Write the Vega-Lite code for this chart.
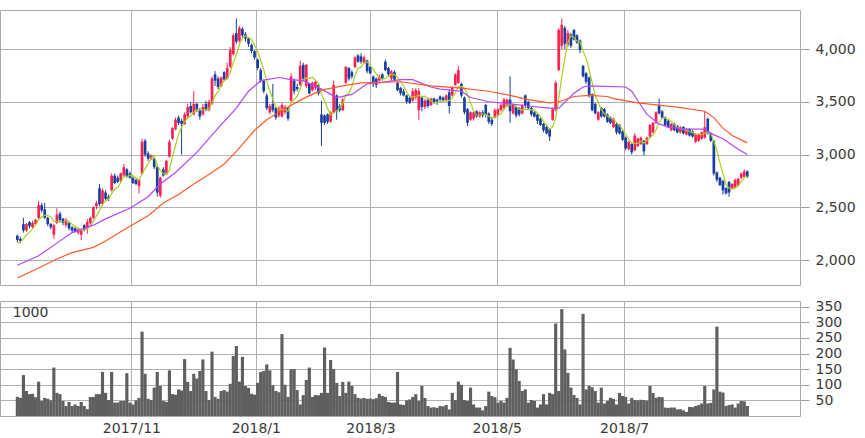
{
"$schema": "https://vega.github.io/schema/vega-lite/v6.json",
"padding": {"left": -1, "top": 9, "right": 0, "bottom": 0},
"background": "white",
"spacing": 16,
"bounds": "flush",
"config": {
  "view": {"stroke": "#a9a9a9", "strokeWidth": 1},
  "axis": {"gridColor": "#b0b0b0", "gridWidth": 1, "labelFont": "DejaVu Sans", "labelFontSize": 14, "labelColor": "#3a3a3a", "tickColor": "#a0a0a0", "domain": false, "title": null}
},
"datasets": {
"k": [
{"i":0,"o":2230,"h":2240,"l":2170,"c":2190,"v":61,"m":2160},
{"i":1,"o":2200,"h":2220,"l":2160,"c":2180,"v":58,"m":2170},
{"i":2,"o":2340,"h":2400,"l":2260,"c":2280,"v":131,"m":2200},
{"i":3,"o":2280,"h":2350,"l":2270,"c":2340,"v":80,"m":2240},
{"i":4,"o":2360,"h":2370,"l":2300,"c":2320,"v":70,"m":2262},
{"i":5,"o":2310,"h":2370,"l":2300,"c":2350,"v":71,"m":2294},
{"i":6,"o":2340,"h":2390,"l":2330,"c":2380,"v":60,"m":2334},
{"i":7,"o":2400,"h":2560,"l":2390,"c":2520,"v":110,"m":2382},
{"i":8,"o":2520,"h":2540,"l":2450,"c":2470,"v":48,"m":2408},
{"i":9,"o":2480,"h":2540,"l":2390,"c":2400,"v":58,"m":2424},
{"i":10,"o":2400,"h":2410,"l":2320,"c":2340,"v":55,"m":2422},
{"i":11,"o":2340,"h":2350,"l":2290,"c":2310,"v":50,"m":2408},
{"i":12,"o":2240,"h":2340,"l":2200,"c":2330,"v":155,"m":2370},
{"i":13,"o":2350,"h":2490,"l":2340,"c":2430,"v":74,"m":2362},
{"i":14,"o":2440,"h":2460,"l":2360,"c":2380,"v":70,"m":2358},
{"i":15,"o":2390,"h":2400,"l":2330,"c":2350,"v":48,"m":2360},
{"i":16,"o":2330,"h":2400,"l":2310,"c":2380,"v":32,"m":2374},
{"i":17,"o":2350,"h":2360,"l":2280,"c":2300,"v":45,"m":2368},
{"i":18,"o":2310,"h":2320,"l":2260,"c":2280,"v":32,"m":2338},
{"i":19,"o":2300,"h":2310,"l":2260,"c":2270,"v":37,"m":2316},
{"i":20,"o":2260,"h":2300,"l":2240,"c":2290,"v":32,"m":2304},
{"i":21,"o":2240,"h":2290,"l":2190,"c":2280,"v":45,"m":2284},
{"i":22,"o":2330,"h":2340,"l":2270,"c":2290,"v":32,"m":2282},
{"i":23,"o":2300,"h":2390,"l":2250,"c":2360,"v":22,"m":2298},
{"i":24,"o":2350,"h":2410,"l":2330,"c":2400,"v":61,"m":2324},
{"i":25,"o":2400,"h":2510,"l":2390,"c":2500,"v":61,"m":2366},
{"i":26,"o":2510,"h":2560,"l":2480,"c":2540,"v":70,"m":2418},
{"i":27,"o":2680,"h":2720,"l":2510,"c":2530,"v":70,"m":2466},
{"i":28,"o":2530,"h":2680,"l":2510,"c":2660,"v":141,"m":2526},
{"i":29,"o":2640,"h":2660,"l":2560,"c":2580,"v":74,"m":2562},
{"i":30,"o":2600,"h":2620,"l":2560,"c":2580,"v":51,"m":2578},
{"i":31,"o":2660,"h":2820,"l":2650,"c":2800,"v":141,"m":2630},
{"i":32,"o":2800,"h":2820,"l":2720,"c":2730,"v":43,"m":2670},
{"i":33,"o":2780,"h":2800,"l":2730,"c":2740,"v":43,"m":2686},
{"i":34,"o":2750,"h":2830,"l":2740,"c":2820,"v":48,"m":2734},
{"i":35,"o":2800,"h":2910,"l":2790,"c":2880,"v":48,"m":2794},
{"i":36,"o":2860,"h":2870,"l":2780,"c":2790,"v":137,"m":2792},
{"i":37,"o":2820,"h":2840,"l":2770,"c":2780,"v":43,"m":2802},
{"i":38,"o":2780,"h":2790,"l":2720,"c":2730,"v":37,"m":2800},
{"i":39,"o":2760,"h":2770,"l":2710,"c":2720,"v":50,"m":2780},
{"i":40,"o":2700,"h":2770,"l":2630,"c":2760,"v":58,"m":2756},
{"i":41,"o":2820,"h":3150,"l":2810,"c":3120,"v":270,"m":2822},
{"i":42,"o":3130,"h":3150,"l":2980,"c":3000,"v":135,"m":2866},
{"i":43,"o":3010,"h":3030,"l":2940,"c":2960,"v":55,"m":2912},
{"i":44,"o":2960,"h":3000,"l":2950,"c":2990,"v":51,"m":2966},
{"i":45,"o":2960,"h":2970,"l":2860,"c":2880,"v":91,"m":2990},
{"i":46,"o":2880,"h":2900,"l":2600,"c":2640,"v":141,"m":2894},
{"i":47,"o":2610,"h":2790,"l":2590,"c":2780,"v":96,"m":2850},
{"i":48,"o":2860,"h":2880,"l":2790,"c":2800,"v":48,"m":2818},
{"i":49,"o":2820,"h":2950,"l":2810,"c":2940,"v":45,"m":2808},
{"i":50,"o":2980,"h":3140,"l":2970,"c":3120,"v":146,"m":2856},
{"i":51,"o":3150,"h":3260,"l":3140,"c":3250,"v":70,"m":2978},
{"i":52,"o":3240,"h":3350,"l":3230,"c":3330,"v":68,"m":3088},
{"i":53,"o":3350,"h":3370,"l":3280,"c":3300,"v":85,"m":3188},
{"i":54,"o":3320,"h":3340,"l":3000,"c":3290,"v":82,"m":3258},
{"i":55,"o":3290,"h":3400,"l":3280,"c":3380,"v":182,"m":3310},
{"i":56,"o":3360,"h":3480,"l":3340,"c":3450,"v":109,"m":3350},
{"i":57,"o":3460,"h":3500,"l":3390,"c":3400,"v":80,"m":3364},
{"i":58,"o":3380,"h":3600,"l":3370,"c":3480,"v":135,"m":3400},
{"i":59,"o":3480,"h":3490,"l":3400,"c":3420,"v":120,"m":3426},
{"i":60,"o":3420,"h":3440,"l":3330,"c":3360,"v":144,"m":3422},
{"i":61,"o":3380,"h":3480,"l":3370,"c":3450,"v":181,"m":3422},
{"i":62,"o":3480,"h":3510,"l":3410,"c":3420,"v":80,"m":3426},
{"i":63,"o":3420,"h":3520,"l":3410,"c":3500,"v":51,"m":3430},
{"i":64,"o":3480,"h":3740,"l":3470,"c":3720,"v":206,"m":3490},
{"i":65,"o":3760,"h":3790,"l":3650,"c":3700,"v":61,"m":3558},
{"i":66,"o":3720,"h":3740,"l":3620,"c":3640,"v":55,"m":3596},
{"i":67,"o":3650,"h":3740,"l":3640,"c":3730,"v":80,"m":3658},
{"i":68,"o":3780,"h":3790,"l":3700,"c":3710,"v":83,"m":3700},
{"i":69,"o":3720,"h":3870,"l":3710,"c":3820,"v":78,"m":3720},
{"i":70,"o":3830,"h":4020,"l":3820,"c":3990,"v":103,"m":3778},
{"i":71,"o":3950,"h":4150,"l":3940,"c":4130,"v":192,"m":3876},
{"i":72,"o":4150,"h":4290,"l":4050,"c":4070,"v":224,"m":3944},
{"i":73,"o":4080,"h":4220,"l":4060,"c":4200,"v":110,"m":4042},
{"i":74,"o":4190,"h":4210,"l":4110,"c":4130,"v":189,"m":4104},
{"i":75,"o":4140,"h":4160,"l":4070,"c":4100,"v":96,"m":4126},
{"i":76,"o":4100,"h":4110,"l":4020,"c":4050,"v":90,"m":4110},
{"i":77,"o":4040,"h":4050,"l":3960,"c":3980,"v":71,"m":4092},
{"i":78,"o":3980,"h":3990,"l":3900,"c":3920,"v":68,"m":4036},
{"i":79,"o":3900,"h":3910,"l":3800,"c":3820,"v":106,"m":3974},
{"i":80,"o":3800,"h":3820,"l":3680,"c":3700,"v":141,"m":3894},
{"i":81,"o":3700,"h":3710,"l":3580,"c":3600,"v":144,"m":3804},
{"i":82,"o":3560,"h":3580,"l":3420,"c":3440,"v":165,"m":3696},
{"i":83,"o":3400,"h":3480,"l":3380,"c":3460,"v":146,"m":3604},
{"i":84,"o":3480,"h":3670,"l":3400,"c":3420,"v":98,"m":3524},
{"i":85,"o":3440,"h":3450,"l":3330,"c":3350,"v":80,"m":3454},
{"i":86,"o":3370,"h":3460,"l":3350,"c":3440,"v":76,"m":3422},
{"i":87,"o":3360,"h":3490,"l":3350,"c":3470,"v":262,"m":3428},
{"i":88,"o":3400,"h":3470,"l":3380,"c":3450,"v":100,"m":3426},
{"i":89,"o":3440,"h":3450,"l":3320,"c":3340,"v":61,"m":3410},
{"i":90,"o":3510,"h":3770,"l":3500,"c":3740,"v":150,"m":3488},
{"i":91,"o":3700,"h":3720,"l":3570,"c":3600,"v":150,"m":3520},
{"i":92,"o":3640,"h":3670,"l":3600,"c":3620,"v":83,"m":3550},
{"i":93,"o":3660,"h":3890,"l":3650,"c":3840,"v":37,"m":3628},
{"i":94,"o":3850,"h":3870,"l":3700,"c":3720,"v":67,"m":3704},
{"i":95,"o":3650,"h":3860,"l":3630,"c":3850,"v":115,"m":3726},
{"i":96,"o":3670,"h":3680,"l":3570,"c":3580,"v":155,"m":3722},
{"i":97,"o":3610,"h":3690,"l":3600,"c":3680,"v":61,"m":3734},
{"i":98,"o":3630,"h":3700,"l":3610,"c":3690,"v":67,"m":3704},
{"i":99,"o":3660,"h":3670,"l":3560,"c":3580,"v":66,"m":3676},
{"i":100,"o":3380,"h":3510,"l":3080,"c":3300,"v":74,"m":3566},
{"i":101,"o":3370,"h":3380,"l":3280,"c":3300,"v":219,"m":3510},
{"i":102,"o":3380,"h":3390,"l":3290,"c":3310,"v":74,"m":3436},
{"i":103,"o":3310,"h":3410,"l":3300,"c":3400,"v":179,"m":3378},
{"i":104,"o":3400,"h":3700,"l":3390,"c":3660,"v":150,"m":3394},
{"i":105,"o":3560,"h":3570,"l":3330,"c":3410,"v":106,"m":3416},
{"i":106,"o":3460,"h":3480,"l":3400,"c":3420,"v":64,"m":3440},
{"i":107,"o":3420,"h":3540,"l":3410,"c":3520,"v":109,"m":3482},
{"i":108,"o":3680,"h":3840,"l":3670,"c":3830,"v":74,"m":3568},
{"i":109,"o":3820,"h":3830,"l":3700,"c":3720,"v":110,"m":3580},
{"i":110,"o":3780,"h":3800,"l":3720,"c":3740,"v":96,"m":3646},
{"i":111,"o":3830,"h":3930,"l":3820,"c":3920,"v":70,"m":3746},
{"i":112,"o":3940,"h":3950,"l":3870,"c":3880,"v":58,"m":3818},
{"i":113,"o":3930,"h":3960,"l":3860,"c":3880,"v":56,"m":3828},
{"i":114,"o":3870,"h":3940,"l":3860,"c":3920,"v":58,"m":3868},
{"i":115,"o":3890,"h":3900,"l":3770,"c":3790,"v":55,"m":3878},
{"i":116,"o":3830,"h":3840,"l":3760,"c":3770,"v":56,"m":3848},
{"i":117,"o":3740,"h":3750,"l":3640,"c":3680,"v":54,"m":3808},
{"i":118,"o":3720,"h":3730,"l":3630,"c":3660,"v":57,"m":3764},
{"i":119,"o":3700,"h":3760,"l":3690,"c":3740,"v":71,"m":3728},
{"i":120,"o":3760,"h":3770,"l":3700,"c":3720,"v":64,"m":3714},
{"i":121,"o":3880,"h":3900,"l":3790,"c":3800,"v":61,"m":3720},
{"i":122,"o":3820,"h":3830,"l":3740,"c":3760,"v":45,"m":3736},
{"i":123,"o":3720,"h":3800,"l":3700,"c":3790,"v":43,"m":3762},
{"i":124,"o":3780,"h":3800,"l":3700,"c":3710,"v":43,"m":3756},
{"i":125,"o":3680,"h":3690,"l":3600,"c":3610,"v":141,"m":3734},
{"i":126,"o":3630,"h":3640,"l":3560,"c":3580,"v":37,"m":3690},
{"i":127,"o":3600,"h":3620,"l":3550,"c":3560,"v":35,"m":3650},
{"i":128,"o":3560,"h":3570,"l":3480,"c":3500,"v":50,"m":3592},
{"i":129,"o":3540,"h":3560,"l":3480,"c":3490,"v":53,"m":3548},
{"i":130,"o":3510,"h":3630,"l":3500,"c":3600,"v":61,"m":3546},
{"i":131,"o":3540,"h":3630,"l":3520,"c":3610,"v":70,"m":3552},
{"i":132,"o":3420,"h":3630,"l":3330,"c":3600,"v":48,"m":3560},
{"i":133,"o":3540,"h":3550,"l":3410,"c":3450,"v":96,"m":3550},
{"i":134,"o":3450,"h":3530,"l":3430,"c":3510,"v":58,"m":3554},
{"i":135,"o":3520,"h":3540,"l":3440,"c":3460,"v":32,"m":3526},
{"i":136,"o":3470,"h":3540,"l":3460,"c":3530,"v":27,"m":3510},
{"i":137,"o":3530,"h":3540,"l":3480,"c":3490,"v":28,"m":3488},
{"i":138,"o":3520,"h":3530,"l":3470,"c":3500,"v":26,"m":3498},
{"i":139,"o":3550,"h":3560,"l":3510,"c":3520,"v":32,"m":3500},
{"i":140,"o":3540,"h":3550,"l":3500,"c":3510,"v":31,"m":3510},
{"i":141,"o":3510,"h":3570,"l":3500,"c":3560,"v":35,"m":3516},
{"i":142,"o":3590,"h":3620,"l":3390,"c":3460,"v":21,"m":3510},
{"i":143,"o":3560,"h":3650,"l":3550,"c":3640,"v":74,"m":3538},
{"i":144,"o":3660,"h":3770,"l":3650,"c":3760,"v":51,"m":3586},
{"i":145,"o":3680,"h":3840,"l":3670,"c":3800,"v":110,"m":3644},
{"i":146,"o":3670,"h":3680,"l":3540,"c":3560,"v":100,"m":3644},
{"i":147,"o":3540,"h":3550,"l":3380,"c":3400,"v":51,"m":3632},
{"i":148,"o":3430,"h":3440,"l":3270,"c":3300,"v":48,"m":3564},
{"i":149,"o":3330,"h":3410,"l":3320,"c":3400,"v":91,"m":3492},
{"i":150,"o":3340,"h":3410,"l":3320,"c":3400,"v":37,"m":3412},
{"i":151,"o":3410,"h":3420,"l":3350,"c":3360,"v":27,"m":3372},
{"i":152,"o":3360,"h":3410,"l":3350,"c":3400,"v":27,"m":3372},
{"i":153,"o":3400,"h":3420,"l":3350,"c":3370,"v":18,"m":3386},
{"i":154,"o":3470,"h":3480,"l":3350,"c":3380,"v":32,"m":3382},
{"i":155,"o":3390,"h":3400,"l":3290,"c":3310,"v":78,"m":3364},
{"i":156,"o":3330,"h":3350,"l":3270,"c":3290,"v":64,"m":3350},
{"i":157,"o":3350,"h":3440,"l":3340,"c":3420,"v":60,"m":3354},
{"i":158,"o":3380,"h":3440,"l":3360,"c":3430,"v":43,"m":3366},
{"i":159,"o":3420,"h":3480,"l":3410,"c":3470,"v":48,"m":3384},
{"i":160,"o":3440,"h":3540,"l":3430,"c":3520,"v":43,"m":3426},
{"i":161,"o":3460,"h":3530,"l":3450,"c":3520,"v":58,"m":3472},
{"i":162,"o":3520,"h":3740,"l":3300,"c":3410,"v":218,"m":3470},
{"i":163,"o":3390,"h":3480,"l":3380,"c":3470,"v":181,"m":3478},
{"i":164,"o":3450,"h":3460,"l":3350,"c":3370,"v":150,"m":3458},
{"i":165,"o":3440,"h":3450,"l":3360,"c":3380,"v":112,"m":3430},
{"i":166,"o":3390,"h":3480,"l":3380,"c":3460,"v":80,"m":3418},
{"i":167,"o":3560,"h":3570,"l":3440,"c":3470,"v":85,"m":3430},
{"i":168,"o":3500,"h":3510,"l":3430,"c":3440,"v":43,"m":3424},
{"i":169,"o":3440,"h":3450,"l":3360,"c":3380,"v":51,"m":3426},
{"i":170,"o":3400,"h":3410,"l":3350,"c":3360,"v":48,"m":3422},
{"i":171,"o":3380,"h":3390,"l":3290,"c":3320,"v":27,"m":3394},
{"i":172,"o":3340,"h":3350,"l":3270,"c":3280,"v":37,"m":3356},
{"i":173,"o":3290,"h":3300,"l":3210,"c":3230,"v":70,"m":3314},
{"i":174,"o":3260,"h":3270,"l":3190,"c":3200,"v":37,"m":3278},
{"i":175,"o":3240,"h":3250,"l":3130,"c":3170,"v":74,"m":3240},
{"i":176,"o":3330,"h":3440,"l":3320,"c":3430,"v":70,"m":3262},
{"i":177,"o":3420,"h":3700,"l":3410,"c":3680,"v":296,"m":3342},
{"i":178,"o":3800,"h":4200,"l":3790,"c":4180,"v":80,"m":3532},
{"i":179,"o":4030,"h":4290,"l":4000,"c":4230,"v":342,"m":3738},
{"i":180,"o":4200,"h":4220,"l":4000,"c":4050,"v":213,"m":3914},
{"i":181,"o":4040,"h":4180,"l":4020,"c":4150,"v":138,"m":4058},
{"i":182,"o":4140,"h":4150,"l":4010,"c":4030,"v":91,"m":4128},
{"i":183,"o":4180,"h":4190,"l":4080,"c":4090,"v":67,"m":4110},
{"i":184,"o":4130,"h":4140,"l":4050,"c":4060,"v":58,"m":4076},
{"i":185,"o":4080,"h":4090,"l":3960,"c":3990,"v":37,"m":4064},
{"i":186,"o":3840,"h":3850,"l":3730,"c":3740,"v":327,"m":3982},
{"i":187,"o":3770,"h":3780,"l":3670,"c":3690,"v":85,"m":3914},
{"i":188,"o":3730,"h":3740,"l":3540,"c":3560,"v":96,"m":3808},
{"i":189,"o":3570,"h":3580,"l":3410,"c":3420,"v":92,"m":3680},
{"i":190,"o":3480,"h":3490,"l":3380,"c":3390,"v":80,"m":3560},
{"i":191,"o":3330,"h":3410,"l":3320,"c":3400,"v":43,"m":3492},
{"i":192,"o":3440,"h":3450,"l":3350,"c":3360,"v":91,"m":3426},
{"i":193,"o":3430,"h":3440,"l":3350,"c":3360,"v":40,"m":3386},
{"i":194,"o":3380,"h":3390,"l":3300,"c":3310,"v":48,"m":3364},
{"i":195,"o":3350,"h":3360,"l":3290,"c":3300,"v":58,"m":3346},
{"i":196,"o":3260,"h":3350,"l":3250,"c":3340,"v":55,"m":3334},
{"i":197,"o":3290,"h":3300,"l":3190,"c":3210,"v":37,"m":3304},
{"i":198,"o":3280,"h":3290,"l":3190,"c":3200,"v":74,"m":3272},
{"i":199,"o":3220,"h":3230,"l":3130,"c":3140,"v":64,"m":3238},
{"i":200,"o":3160,"h":3170,"l":3040,"c":3060,"v":61,"m":3190},
{"i":201,"o":3050,"h":3130,"l":3040,"c":3120,"v":40,"m":3146},
{"i":202,"o":3100,"h":3110,"l":3000,"c":3020,"v":58,"m":3108},
{"i":203,"o":3040,"h":3200,"l":3030,"c":3180,"v":51,"m":3104},
{"i":204,"o":3080,"h":3160,"l":3070,"c":3150,"v":50,"m":3106},
{"i":205,"o":3100,"h":3170,"l":3090,"c":3160,"v":52,"m":3126},
{"i":206,"o":3130,"h":3140,"l":2990,"c":3030,"v":51,"m":3108},
{"i":207,"o":3100,"h":3170,"l":3090,"c":3160,"v":49,"m":3136},
{"i":208,"o":3170,"h":3290,"l":3160,"c":3280,"v":96,"m":3156},
{"i":209,"o":3210,"h":3310,"l":3200,"c":3300,"v":74,"m":3186},
{"i":210,"o":3300,"h":3410,"l":3290,"c":3400,"v":58,"m":3234},
{"i":211,"o":3470,"h":3530,"l":3380,"c":3390,"v":61,"m":3306},
{"i":212,"o":3410,"h":3420,"l":3340,"c":3350,"v":60,"m":3344},
{"i":213,"o":3350,"h":3360,"l":3270,"c":3280,"v":27,"m":3344},
{"i":214,"o":3320,"h":3330,"l":3250,"c":3260,"v":26,"m":3336},
{"i":215,"o":3230,"h":3300,"l":3220,"c":3290,"v":27,"m":3314},
{"i":216,"o":3290,"h":3300,"l":3220,"c":3230,"v":27,"m":3282},
{"i":217,"o":3270,"h":3280,"l":3200,"c":3210,"v":21,"m":3254},
{"i":218,"o":3210,"h":3270,"l":3200,"c":3260,"v":22,"m":3250},
{"i":219,"o":3260,"h":3270,"l":3190,"c":3200,"v":18,"m":3238},
{"i":220,"o":3190,"h":3250,"l":3180,"c":3240,"v":13,"m":3228},
{"i":221,"o":3240,"h":3250,"l":3170,"c":3180,"v":29,"m":3218},
{"i":222,"o":3220,"h":3230,"l":3160,"c":3170,"v":28,"m":3210},
{"i":223,"o":3120,"h":3200,"l":3110,"c":3190,"v":32,"m":3196},
{"i":224,"o":3130,"h":3200,"l":3120,"c":3190,"v":35,"m":3194},
{"i":225,"o":3150,"h":3220,"l":3140,"c":3210,"v":40,"m":3188},
{"i":226,"o":3160,"h":3410,"l":3150,"c":3260,"v":96,"m":3204},
{"i":227,"o":3340,"h":3350,"l":3190,"c":3200,"v":40,"m":3210},
{"i":228,"o":3200,"h":3210,"l":3120,"c":3130,"v":42,"m":3198},
{"i":229,"o":3130,"h":3140,"l":2800,"c":2820,"v":85,"m":3124},
{"i":230,"o":2830,"h":2840,"l":2740,"c":2760,"v":286,"m":3034},
{"i":231,"o":2780,"h":2790,"l":2700,"c":2710,"v":78,"m":2924},
{"i":232,"o":2750,"h":2760,"l":2620,"c":2660,"v":75,"m":2816},
{"i":233,"o":2680,"h":2690,"l":2620,"c":2630,"v":32,"m":2716},
{"i":234,"o":2740,"h":2750,"l":2600,"c":2640,"v":35,"m":2680},
{"i":235,"o":2680,"h":2730,"l":2670,"c":2720,"v":37,"m":2672},
{"i":236,"o":2690,"h":2770,"l":2680,"c":2760,"v":27,"m":2682},
{"i":237,"o":2710,"h":2780,"l":2700,"c":2770,"v":40,"m":2704},
{"i":238,"o":2780,"h":2830,"l":2770,"c":2820,"v":48,"m":2742},
{"i":239,"o":2790,"h":2860,"l":2780,"c":2840,"v":47,"m":2782},
{"i":240,"o":2840,"h":2850,"l":2780,"c":2790,"v":32,"m":2796}
],
"m25": [
{"i":0,"v":1950},{"i":7,"v":2040},{"i":13,"v":2160},{"i":18,"v":2260},{"i":25,"v":2330},{"i":29,"v":2390},{"i":37,"v":2490},{"i":43,"v":2600},{"i":47,"v":2720},{"i":52,"v":2830},{"i":59,"v":3020},{"i":66,"v":3250},{"i":72,"v":3440},{"i":76,"v":3600},{"i":80,"v":3700},{"i":86,"v":3730},{"i":90,"v":3710},{"i":94,"v":3700},{"i":100,"v":3620},{"i":105,"v":3540},{"i":110,"v":3570},{"i":115,"v":3670},{"i":119,"v":3680},{"i":126,"v":3710},{"i":130,"v":3710},{"i":136,"v":3640},{"i":139,"v":3620},{"i":146,"v":3600},{"i":149,"v":3540},{"i":155,"v":3500},{"i":162,"v":3480},{"i":168,"v":3460},{"i":175,"v":3440},{"i":178,"v":3440},{"i":183,"v":3580},{"i":186,"v":3640},{"i":188,"v":3650},{"i":200,"v":3640},{"i":202,"v":3600},{"i":204,"v":3510},{"i":207,"v":3380},{"i":211,"v":3290},{"i":214,"v":3260},{"i":219,"v":3240},{"i":226,"v":3240},{"i":228,"v":3200},{"i":232,"v":3150},{"i":237,"v":3050},{"i":240,"v":3000}
],
"m75": [
{"i":0,"v":1830},{"i":6,"v":1910},{"i":13,"v":2010},{"i":18,"v":2070},{"i":25,"v":2120},{"i":29,"v":2180},{"i":37,"v":2320},{"i":43,"v":2420},{"i":48,"v":2540},{"i":53,"v":2620},{"i":58,"v":2720},{"i":63,"v":2810},{"i":68,"v":2910},{"i":72,"v":3030},{"i":75,"v":3130},{"i":78,"v":3230},{"i":82,"v":3330},{"i":87,"v":3420},{"i":94,"v":3530},{"i":100,"v":3610},{"i":107,"v":3650},{"i":113,"v":3680},{"i":126,"v":3690},{"i":136,"v":3650},{"i":146,"v":3630},{"i":155,"v":3600},{"i":162,"v":3560},{"i":168,"v":3520},{"i":175,"v":3490},{"i":178,"v":3500},{"i":183,"v":3550},{"i":188,"v":3560},{"i":194,"v":3550},{"i":196,"v":3530},{"i":204,"v":3490},{"i":217,"v":3450},{"i":226,"v":3410},{"i":229,"v":3350},{"i":232,"v":3250},{"i":235,"v":3180},{"i":240,"v":3110}
]
},
"vconcat": [
{
  "width": 800,
  "height": 275,
  "encoding": {
    "x": {"field": "i", "type": "quantitative", "scale": {"domain": [-4.06, 255.68], "nice": false, "zero": false},
          "axis": {"values": [37.5, 78.4, 116.1, 157.6, 199.5], "tickCount": 20, "labels": false, "ticks": false, "grid": true}}
  },
  "layer": [
    {"data": {"name": "k"}, "mark": {"type": "rule", "strokeWidth": 1},
     "encoding": {
       "y": {"field": "l", "type": "quantitative", "scale": {"domain": [1763, 4370], "nice": false, "zero": false},
             "axis": {"orient": "right", "values": [2000, 2500, 3000, 3500, 4000], "tickCount": 20, "format": ",d", "grid": true, "ticks": true, "tickSize": 9, "labelPadding": 6}},
       "y2": {"field": "h"},
       "color": {"condition": {"test": "datum.c >= datum.o", "value": "#ff2052"}, "value": "#1b3fa0"}
     }},
    {"data": {"name": "k"}, "mark": {"type": "bar", "width": 2.7},
     "encoding": {
       "y": {"field": "o", "type": "quantitative", "scale": {"domain": [1763, 4370], "nice": false, "zero": false}},
       "y2": {"field": "c"},
       "color": {"condition": {"test": "datum.c >= datum.o", "value": "#ff2052"}, "value": "#1b3fa0"}
     }},
    {"data": {"name": "k"}, "mark": {"type": "line", "color": "#a6d020", "strokeWidth": 1.2},
     "encoding": {"y": {"field": "m", "type": "quantitative", "scale": {"domain": [1763, 4370], "nice": false, "zero": false}}}},
    {"data": {"name": "m25"}, "mark": {"type": "line", "color": "#b245ff", "strokeWidth": 1.2},
     "encoding": {"y": {"field": "v", "type": "quantitative", "scale": {"domain": [1763, 4370], "nice": false, "zero": false}}}},
    {"data": {"name": "m75"}, "mark": {"type": "line", "color": "#ff5a2a", "strokeWidth": 1.2},
     "encoding": {"y": {"field": "v", "type": "quantitative", "scale": {"domain": [1763, 4370], "nice": false, "zero": false}}}}
  ]
},
{
  "width": 800,
  "height": 115,
  "layer": [
    {"data": {"name": "k"}, "mark": {"type": "bar", "width": 3.15, "color": "#5f5f5f"},
     "encoding": {
       "x": {"field": "i", "type": "quantitative", "scale": {"domain": [-4.06, 255.68], "nice": false, "zero": false},
             "axis": {"values": [37.5, 78.4, 116.1, 157.6, 199.5], "tickCount": 20, "grid": true, "ticks": false, "labelPadding": 5, "labelFlush": false,
                      "labelExpr": "datum.value < 50 ? '2017/11' : datum.value < 100 ? '2018/1' : datum.value < 140 ? '2018/3' : datum.value < 180 ? '2018/5' : '2018/7'"}},
       "y": {"field": "v", "type": "quantitative", "scale": {"domain": [0, 368], "nice": false},
             "axis": {"orient": "right", "values": [50, 100, 150, 200, 250, 300, 350], "tickCount": 20, "grid": true, "ticks": true, "tickSize": 9, "labelPadding": 6, "labelOverlap": false}}
     }},
    {"data": {"values": [{"t": "1000"}]}, "mark": {"type": "text", "align": "left", "baseline": "middle", "font": "DejaVu Sans", "fontSize": 14, "color": "#3a3a3a"},
     "encoding": {
       "x": {"datum": -1.5, "type": "quantitative"},
       "y": {"datum": 330, "type": "quantitative"},
       "text": {"field": "t"}
     }}
  ]
}
]
}
